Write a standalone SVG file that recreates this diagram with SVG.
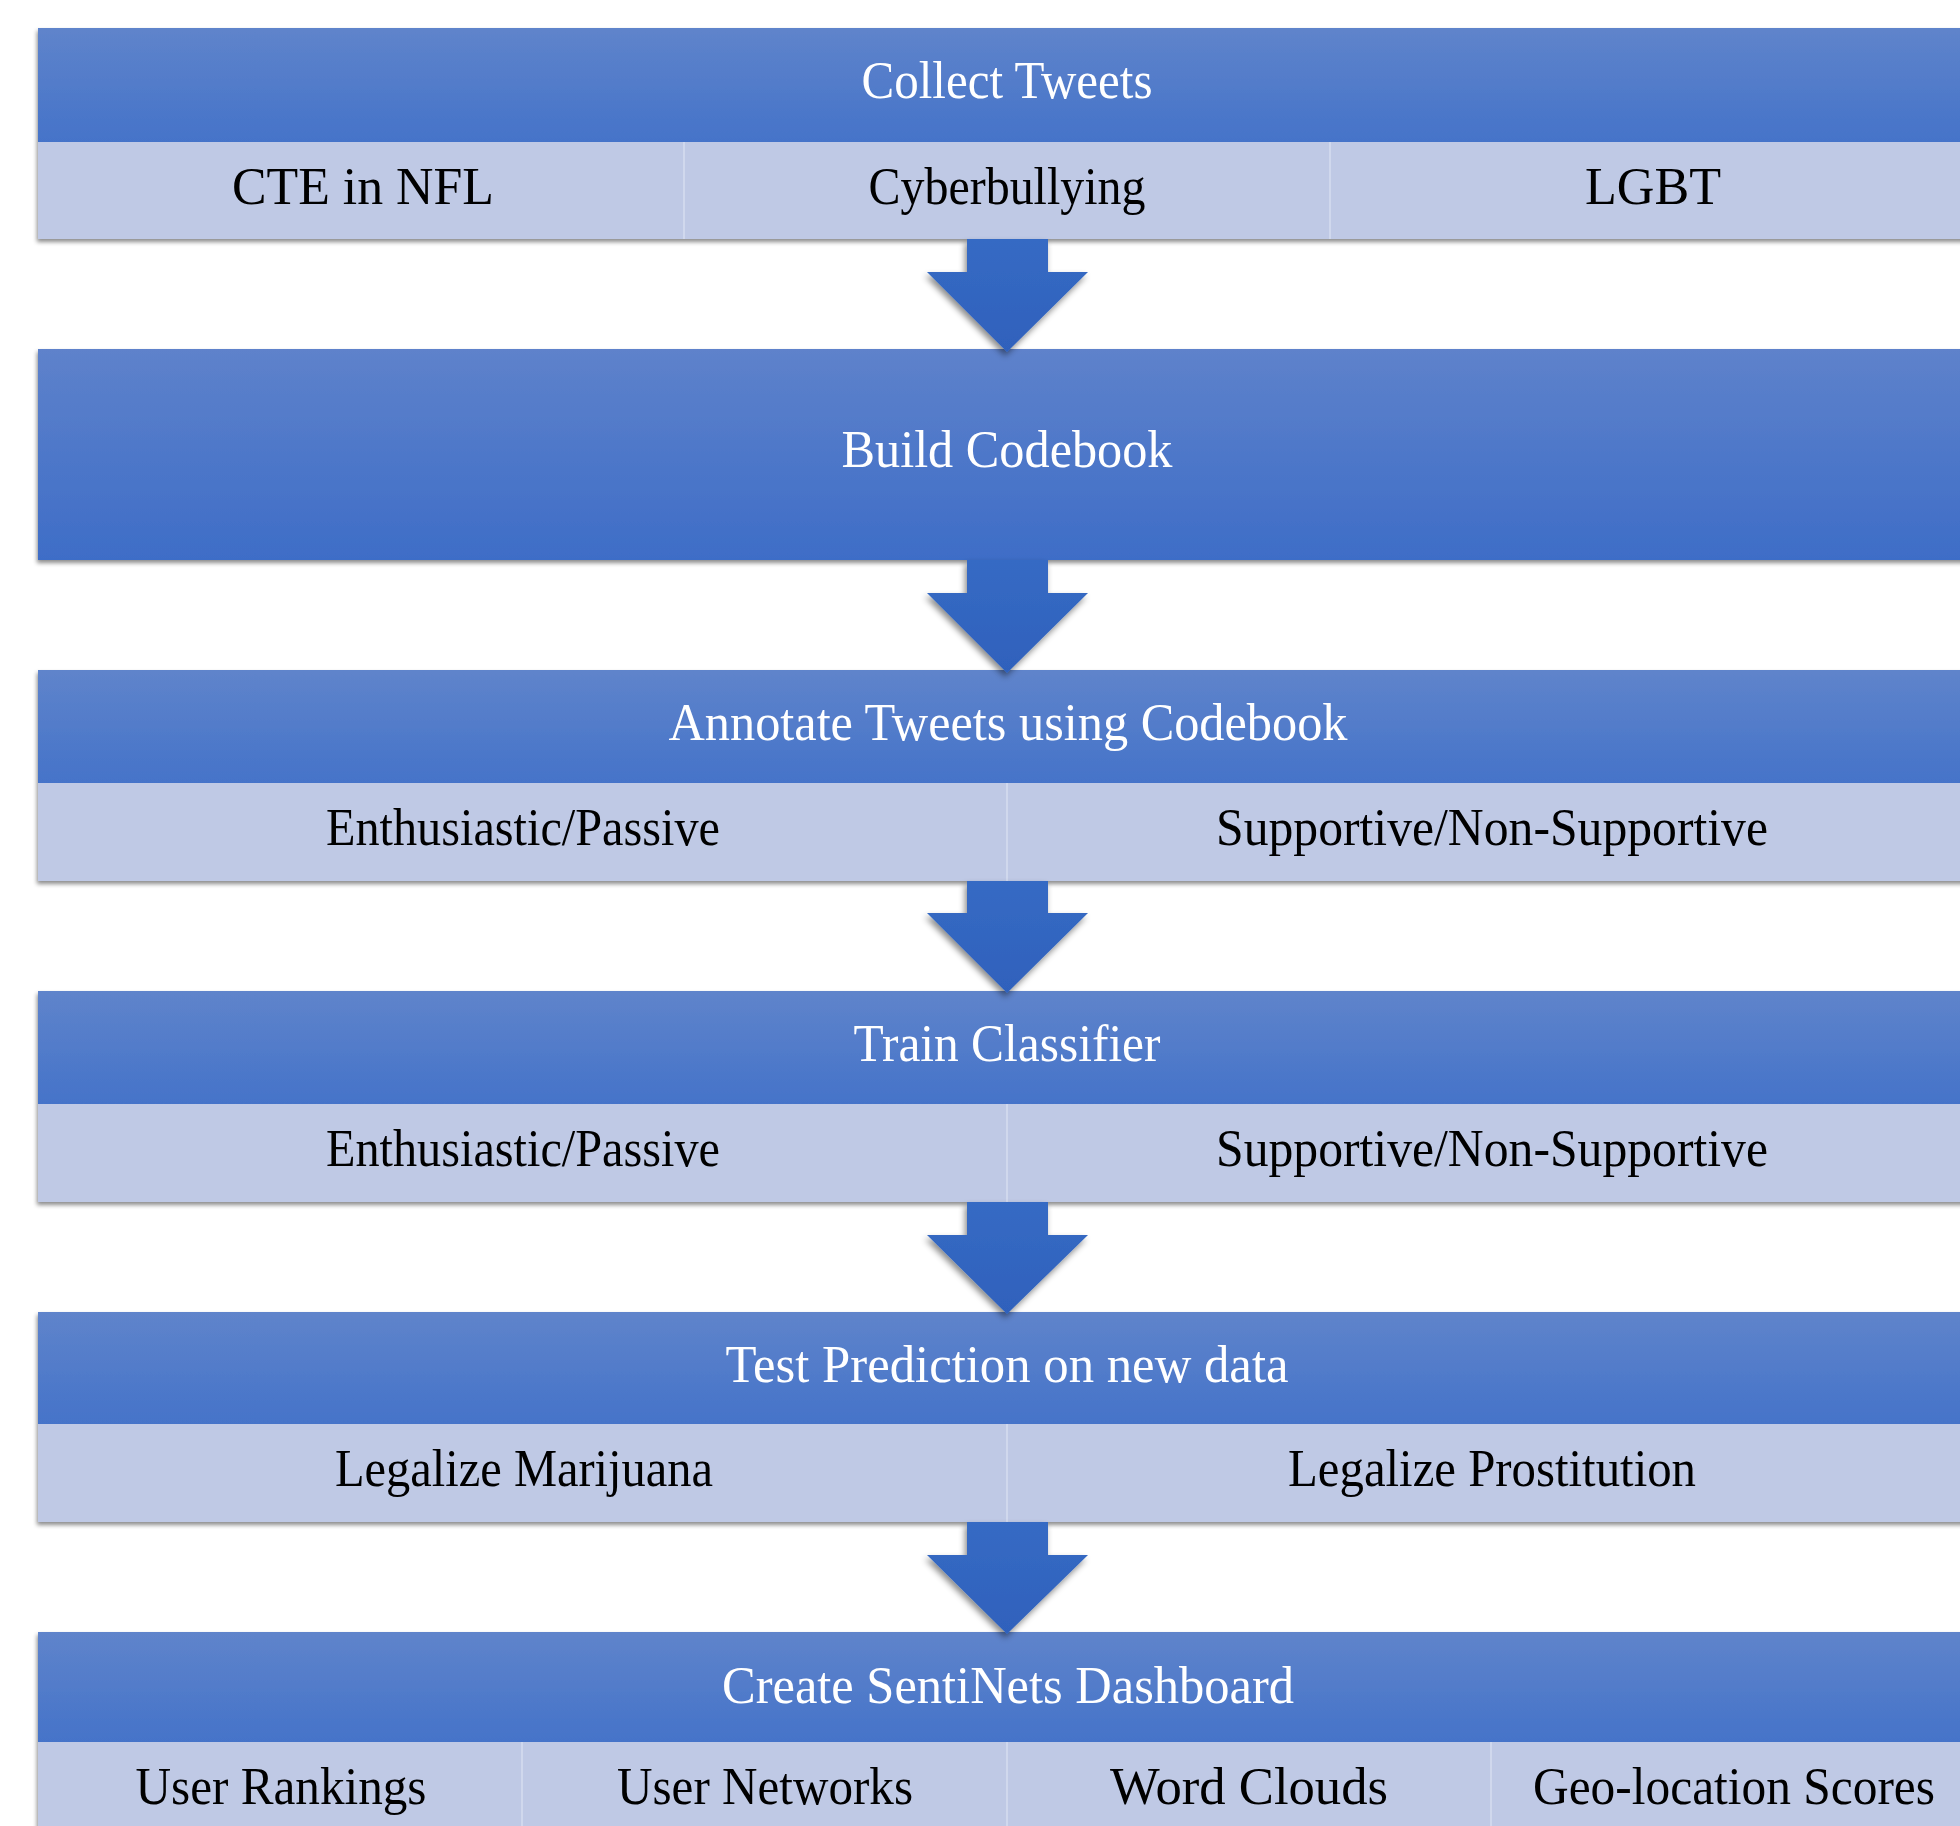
<svg xmlns="http://www.w3.org/2000/svg" width="1960" height="1826" viewBox="0 0 1960 1826">
<defs>
<linearGradient id="hg" x1="0" y1="0" x2="0" y2="1">
<stop offset="0" stop-color="#5F84CB"/>
<stop offset="1" stop-color="#4573C9"/>
</linearGradient>
<linearGradient id="hg2" x1="0" y1="0" x2="0" y2="1">
<stop offset="0" stop-color="#5E82CB"/>
<stop offset="1" stop-color="#3E6DC7"/>
</linearGradient>
<linearGradient id="ag" x1="0" y1="0" x2="0" y2="1">
<stop offset="0" stop-color="#366AC4"/>
<stop offset="1" stop-color="#2F61BC"/>
</linearGradient>
<filter id="sh" x="-5%" y="-10%" width="110%" height="130%">
<feDropShadow dx="-1" dy="3" stdDeviation="2" flood-color="#000" flood-opacity="0.45"/>
</filter>
<filter id="ash" x="-20%" y="-20%" width="140%" height="140%">
<feDropShadow dx="-2" dy="4" stdDeviation="3" flood-color="#000" flood-opacity="0.45"/>
</filter>
</defs>
<style>
.hd{fill:url(#hg)}
.sub{fill:#BFC9E5}
.dv{stroke:#D0D8ED;stroke-width:2}
.ht{font-family:"Liberation Serif",serif;font-size:52px;fill:#FFFFFF;text-anchor:middle}
.st{font-family:"Liberation Serif",serif;font-size:52px;fill:#000000;text-anchor:middle}
.arr{fill:url(#ag)}
</style>
<rect width="1960" height="1826" fill="#FFFFFF"/>

<g id="node-collect" filter="url(#sh)">
<rect class="hd" x="38" y="28" width="1938" height="114"/>
<rect class="sub" x="38" y="142" width="1938" height="97"/>
<line class="dv" x1="684" y1="142" x2="684" y2="239"/>
<line class="dv" x1="1330" y1="142" x2="1330" y2="239"/>
</g>
<g id="text-collect">
<text class="ht" x="1007" y="98" textLength="291" lengthAdjust="spacingAndGlyphs">Collect Tweets</text>
<text class="st" x="363" y="204" textLength="262" lengthAdjust="spacingAndGlyphs">CTE in NFL</text>
<text class="st" x="1007" y="204" textLength="277" lengthAdjust="spacingAndGlyphs">Cyberbullying</text>
<text class="st" x="1653" y="204" textLength="136" lengthAdjust="spacingAndGlyphs">LGBT</text>
</g>

<g id="node-codebook" filter="url(#sh)">
<rect x="38" y="349" width="1938" height="211" fill="url(#hg2)"/>
</g>
<g id="text-codebook">
<text class="ht" x="1007" y="467" textLength="331" lengthAdjust="spacingAndGlyphs">Build Codebook</text>
</g>

<g id="node-annotate" filter="url(#sh)">
<rect class="hd" x="38" y="670" width="1938" height="113"/>
<rect class="sub" x="38" y="783" width="1938" height="98"/>
<line class="dv" x1="1007" y1="783" x2="1007" y2="881"/>
</g>
<g id="text-annotate">
<text class="ht" x="1008" y="740" textLength="679" lengthAdjust="spacingAndGlyphs">Annotate Tweets using Codebook</text>
<text class="st" x="523" y="845" textLength="394" lengthAdjust="spacingAndGlyphs">Enthusiastic/Passive</text>
<text class="st" x="1492" y="845" textLength="552" lengthAdjust="spacingAndGlyphs">Supportive/Non-Supportive</text>
</g>

<g id="node-train" filter="url(#sh)">
<rect class="hd" x="38" y="991" width="1938" height="113"/>
<rect class="sub" x="38" y="1104" width="1938" height="98"/>
<line class="dv" x1="1007" y1="1104" x2="1007" y2="1202"/>
</g>
<g id="text-train">
<text class="ht" x="1007" y="1061" textLength="307" lengthAdjust="spacingAndGlyphs">Train Classifier</text>
<text class="st" x="523" y="1166" textLength="394" lengthAdjust="spacingAndGlyphs">Enthusiastic/Passive</text>
<text class="st" x="1492" y="1166" textLength="552" lengthAdjust="spacingAndGlyphs">Supportive/Non-Supportive</text>
</g>

<g id="node-test" filter="url(#sh)">
<rect class="hd" x="38" y="1312" width="1938" height="112"/>
<rect class="sub" x="38" y="1424" width="1938" height="98"/>
<line class="dv" x1="1007" y1="1424" x2="1007" y2="1522"/>
</g>
<g id="text-test">
<text class="ht" x="1007" y="1382" textLength="563" lengthAdjust="spacingAndGlyphs">Test Prediction on new data</text>
<text class="st" x="524" y="1486" textLength="378" lengthAdjust="spacingAndGlyphs">Legalize Marijuana</text>
<text class="st" x="1492" y="1486" textLength="408" lengthAdjust="spacingAndGlyphs">Legalize Prostitution</text>
</g>

<g id="node-dashboard" filter="url(#sh)">
<rect class="hd" x="38" y="1632" width="1938" height="110"/>
<rect class="sub" x="38" y="1742" width="1938" height="100"/>
<line class="dv" x1="522" y1="1742" x2="522" y2="1842"/>
<line class="dv" x1="1007" y1="1742" x2="1007" y2="1842"/>
<line class="dv" x1="1491" y1="1742" x2="1491" y2="1842"/>
</g>
<g id="text-dashboard">
<text class="ht" x="1008" y="1703" textLength="572" lengthAdjust="spacingAndGlyphs">Create SentiNets Dashboard</text>
<text class="st" x="281" y="1804" textLength="291" lengthAdjust="spacingAndGlyphs">User Rankings</text>
<text class="st" x="765" y="1804" textLength="296" lengthAdjust="spacingAndGlyphs">User Networks</text>
<text class="st" x="1249" y="1804" textLength="278" lengthAdjust="spacingAndGlyphs">Word Clouds</text>
<text class="st" x="1734" y="1804" textLength="402" lengthAdjust="spacingAndGlyphs">Geo-location Scores</text>
</g>

<g id="connectors" filter="url(#ash)">
<polygon class="arr" points="967,239 1048,239 1048,272 1088,272 1007,352 927,272 967,272"/>
<polygon class="arr" points="967,560 1048,560 1048,593 1088,593 1007,673 927,593 967,593"/>
<polygon class="arr" points="967,881 1048,881 1048,913 1088,913 1007,993 927,913 967,913"/>
<polygon class="arr" points="967,1202 1048,1202 1048,1235 1088,1235 1007,1314 927,1235 967,1235"/>
<polygon class="arr" points="967,1522 1048,1522 1048,1555 1088,1555 1007,1634 927,1555 967,1555"/>
</g>
</svg>
